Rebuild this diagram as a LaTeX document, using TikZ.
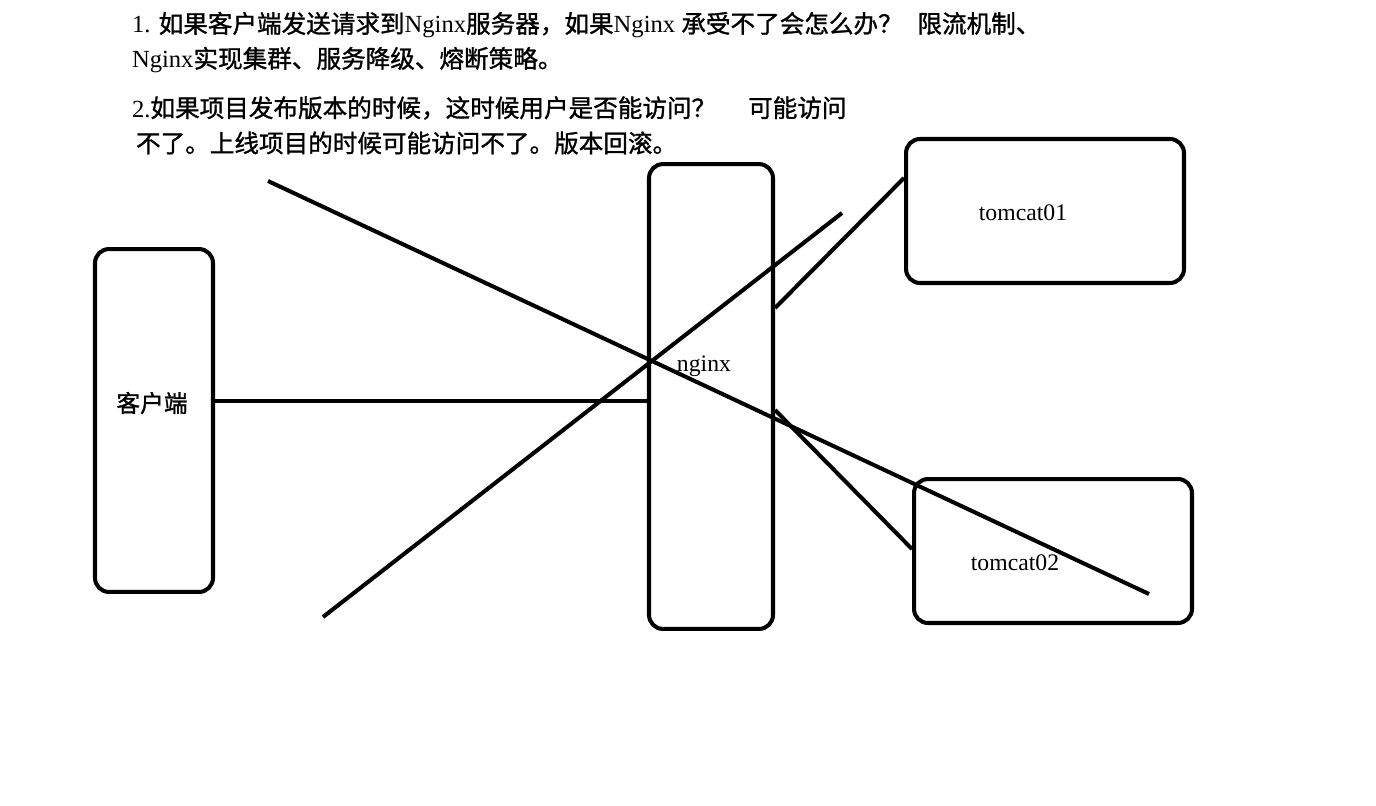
\documentclass[tikz,border=0pt]{standalone}
\usepackage{fontspec}
\setmainfont{Liberation Serif}
\newfontfamily\cjk[FakeBold=1.2]{Noto Sans CJK SC}
\usetikzlibrary{positioning}

\begin{document}
\begin{tikzpicture}[x=0.02cm, y=-0.02cm, line width=2.3pt, font=\fontsize{13.5}{16}\selectfont]
    \tikzstyle{box}=[draw=black, rectangle, rounded corners=8pt, inner sep=0pt]
    \tikzstyle{lbl}=[inner sep=0pt]
    \tikzstyle{note}=[inner sep=0pt, anchor=west, font=\fontsize{14}{16}\selectfont]

    \useasboundingbox (0,0) rectangle (1376,805);

    % questions
    \node[note] (q1a) at (130,25) {1. {\cjk 如果客户端发送请求到}Nginx{\cjk 服务器，如果}Nginx {\cjk 承受不了会怎么办？\hspace{0.6em}限流机制、}};
    \node[note] (q1b) at (130,60) {Nginx{\cjk 实现集群、服务降级、熔断策略。}};
    \node[note] (q2a) at (130,108) {2.{\cjk 如果项目发布版本的时候，这时候用户是否能访问？\hspace{1.3em}可能访问}};
    \node[note] (q2b) at (134,143) {{\cjk 不了。上线项目的时候可能访问不了。版本回滚。}};

    % boxes
    \node[box, minimum width=2.36cm, minimum height=6.86cm] (client) at (154,420.5) {};
    \node[box, minimum width=2.48cm, minimum height=9.3cm] (nginx) at (711,396.5) {};
    \node[box, minimum width=5.56cm, minimum height=2.88cm] (tc1) at (1045,211) {};
    \node[box, minimum width=5.56cm, minimum height=2.88cm] (tc2) at (1053,551) {};

    \node[lbl] (clientlbl) at (152,403) {\cjk 客户端};
    \node[lbl] (nginxlbl) at (704,366) {nginx};
    \node[lbl] (tc1lbl) at (1023,213) {tomcat01};
    \node[lbl] (tc2lbl) at (1015,563) {tomcat02};

    % links
    \draw (client.east |- 0,401) -- (nginx.west |- 0,401);
    \draw (nginx.east |- 0,308) -- (tc1.west |- 0,178);
    \draw (nginx.east |- 0,410) -- (tc2.west |- 0,549);

    % crossing strokes
    \coordinate (xa1) at (268,181);
    \coordinate (xa2) at (1149,594);
    \coordinate (xb1) at (323,617);
    \coordinate (xb2) at (842,213);
    \draw (xa1) -- (xa2);
    \draw (xb1) -- (xb2);
\end{tikzpicture}
\end{document}
